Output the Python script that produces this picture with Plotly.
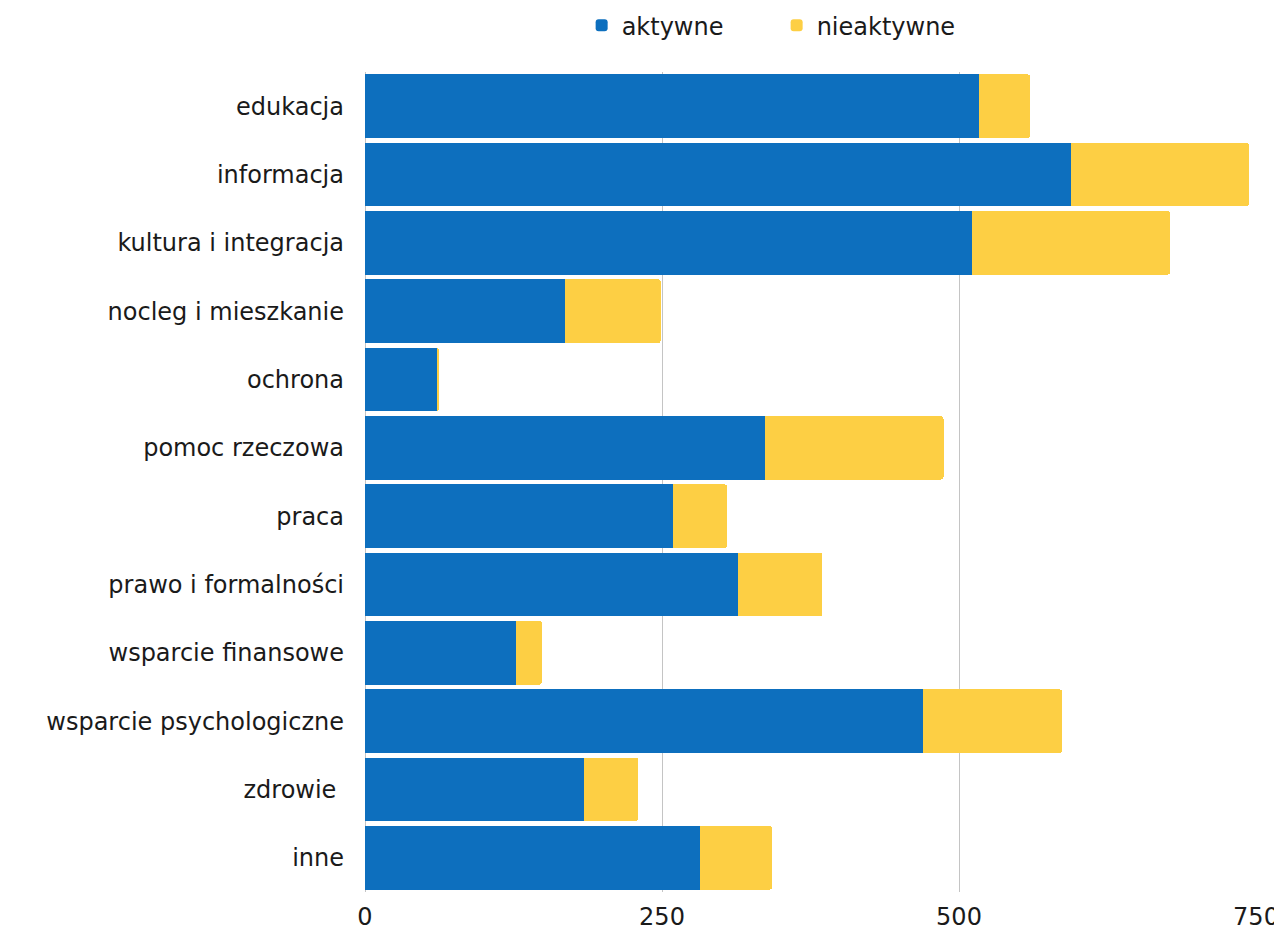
import plotly.graph_objects as go

categories = ["edukacja", "informacja", "kultura i integracja", "nocleg i mieszkanie",
              "ochrona", "pomoc rzeczowa", "praca", "prawo i formalności",
              "wsparcie finansowe", "wsparcie psychologiczne", "zdrowie ", "inne"]
aktywne = [517, 594, 511, 168, 61, 337, 259, 314, 127, 470, 184, 282]
nieaktywne = [43, 150, 167, 81, 1.5, 150, 46, 71, 22, 117, 46, 61]
tick_vals = [0, 250, 500, 750]

FONT = "DejaVu Sans"
FS = 24
fig = go.Figure()
fig.add_trace(go.Bar(y=categories, x=aktywne, name="aktywne", orientation="h",
                     marker=dict(color="#0D6FBE", line=dict(width=0))))
fig.add_trace(go.Bar(y=categories, x=nieaktywne, name="nieaktywne", orientation="h",
                     marker=dict(color="#FDCF44", line=dict(width=0))))

fig.update_layout(
    width=1282, height=929,
    barmode="stack", bargap=0.07, barcornerradius=3,
    plot_bgcolor="white", paper_bgcolor="white",
    margin=dict(l=357, r=34, t=64, b=45, autoexpand=False),
    font=dict(family=FONT, size=FS, color="#1a1a1a"),
    legend=dict(orientation="h", x=0.462, xanchor="center", yref="container",
                y=0.981, yanchor="middle", font=dict(size=FS),
                itemwidth=30, entrywidth=150, entrywidthmode="pixels",
                traceorder="normal"),
    showlegend=True,
)
fig.update_xaxes(range=[0, 750], tickvals=tick_vals, showgrid=True, gridcolor="#c4c4c4",
                 gridwidth=1, zeroline=True, zerolinecolor="#c4c4c4", zerolinewidth=1,
                 showline=False, ticks="", ticklabelstandoff=8, automargin=False,
                 tickfont=dict(size=FS))
fig.update_yaxes(autorange="reversed", showgrid=False, ticks="", ticklabelstandoff=20,
                 automargin=False, tickfont=dict(size=FS))

fig.write_html("out.html")
